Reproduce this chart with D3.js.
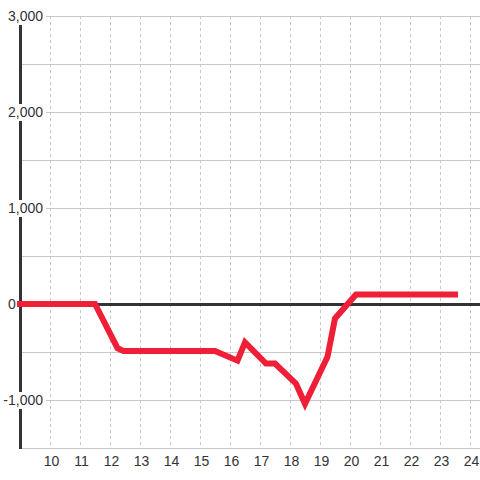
<!DOCTYPE html>
<html>
<head>
<meta charset="utf-8">
<script src="https://cdn.jsdelivr.net/npm/d3@7"></script>
<style>
  body { margin: 0; background: #fff; }
  text { font-family: "Liberation Sans", Arial, sans-serif; }
</style>
</head>
<body>
<script>
// Data
const hours = [9, 11.5, 12.25, 12.45, 15.5, 16.25, 16.5, 17.2, 17.5, 18.2, 18.5, 19.25, 19.5, 20.2, 23.5];
const values = [0, 0, -460, -490, -490, -590, -400, -620, -620, -830, -1040, -550, -150, 100, 100];
const xTicks = [10, 11, 12, 13, 14, 15, 16, 17, 18, 19, 20, 21, 22, 23, 24];
const yTicks = [-1000, 0, 1000, 2000, 3000];
const yGrid = [-1500, -1000, -500, 0, 500, 1000, 1500, 2000, 2500, 3000];

const width = 480, height = 480;
const plotLeft = 20, plotTop = 16, plotBottom = 448;

const x = d3.scaleLinear().domain([9, 24 + 1 / 3]).range([plotLeft, width]);
const y = d3.scaleLinear().domain([-1500, 3000]).range([plotBottom, plotTop]);

const svg = d3.select("body").append("svg")
    .attr("width", width)
    .attr("height", height);

// vertical dashed grid
svg.append("g")
    .selectAll("line")
    .data(xTicks)
    .join("line")
    .attr("x1", d => x(d) + 0.5).attr("x2", d => x(d) + 0.5)
    .attr("y1", plotTop).attr("y2", plotBottom)
    .attr("stroke", "#c8c8c8")
    .attr("stroke-dasharray", "3,3");

// horizontal grid
svg.append("g")
    .selectAll("line")
    .data(yGrid)
    .join("line")
    .attr("x1", plotLeft).attr("x2", width)
    .attr("y1", d => y(d) + 0.5).attr("y2", d => y(d) + 0.5)
    .attr("stroke", "#c8c8c8");

// zero line
svg.append("line")
    .attr("x1", plotLeft).attr("x2", width)
    .attr("y1", y(0) + 0.5).attr("y2", y(0) + 0.5)
    .attr("stroke", "#333")
    .attr("stroke-width", 3);

// y axis line
svg.append("line")
    .attr("x1", plotLeft + 0.5).attr("x2", plotLeft + 0.5)
    .attr("y1", plotTop).attr("y2", plotBottom + 1)
    .attr("stroke", "#333")
    .attr("stroke-width", 3);

// y labels with white backing
const yl = svg.append("g")
    .selectAll("g")
    .data(yTicks)
    .join("g")
    .attr("transform", d => `translate(0,${y(d)})`);

yl.append("rect")
    .attr("x", d => d === 0 ? 6 : 0)
    .attr("y", -8)
    .attr("width", d => d === 0 ? 12 : 46)
    .attr("height", 17)
    .attr("fill", "#fff");

yl.append("text")
    .attr("x", d => d === 0 ? 8 : 43)
    .attr("dy", "0.35em")
    .attr("text-anchor", d => d === 0 ? "start" : "end")
    .attr("font-size", 14)
    .attr("fill", "#333")
    .text(d => d3.format(",")(d).replace("−", "-"));

// x labels
svg.append("g")
    .selectAll("text")
    .data(xTicks)
    .join("text")
    .attr("x", d => x(d) + 1.5)
    .attr("y", 461)
    .attr("dy", "0.35em")
    .attr("text-anchor", "middle")
    .attr("font-size", 14)
    .attr("fill", "#333")
    .text(d => d);

// series
const line = d3.line()
    .x((d, i) => x(hours[i]))
    .y(d => y(d));

svg.append("path")
    .datum(values)
    .attr("d", line)
    .attr("fill", "none")
    .attr("stroke", "#ee1f36")
    .attr("stroke-width", 6)
    .attr("stroke-linecap", "square")
    .attr("stroke-linejoin", "miter");
</script>
</body>
</html>
